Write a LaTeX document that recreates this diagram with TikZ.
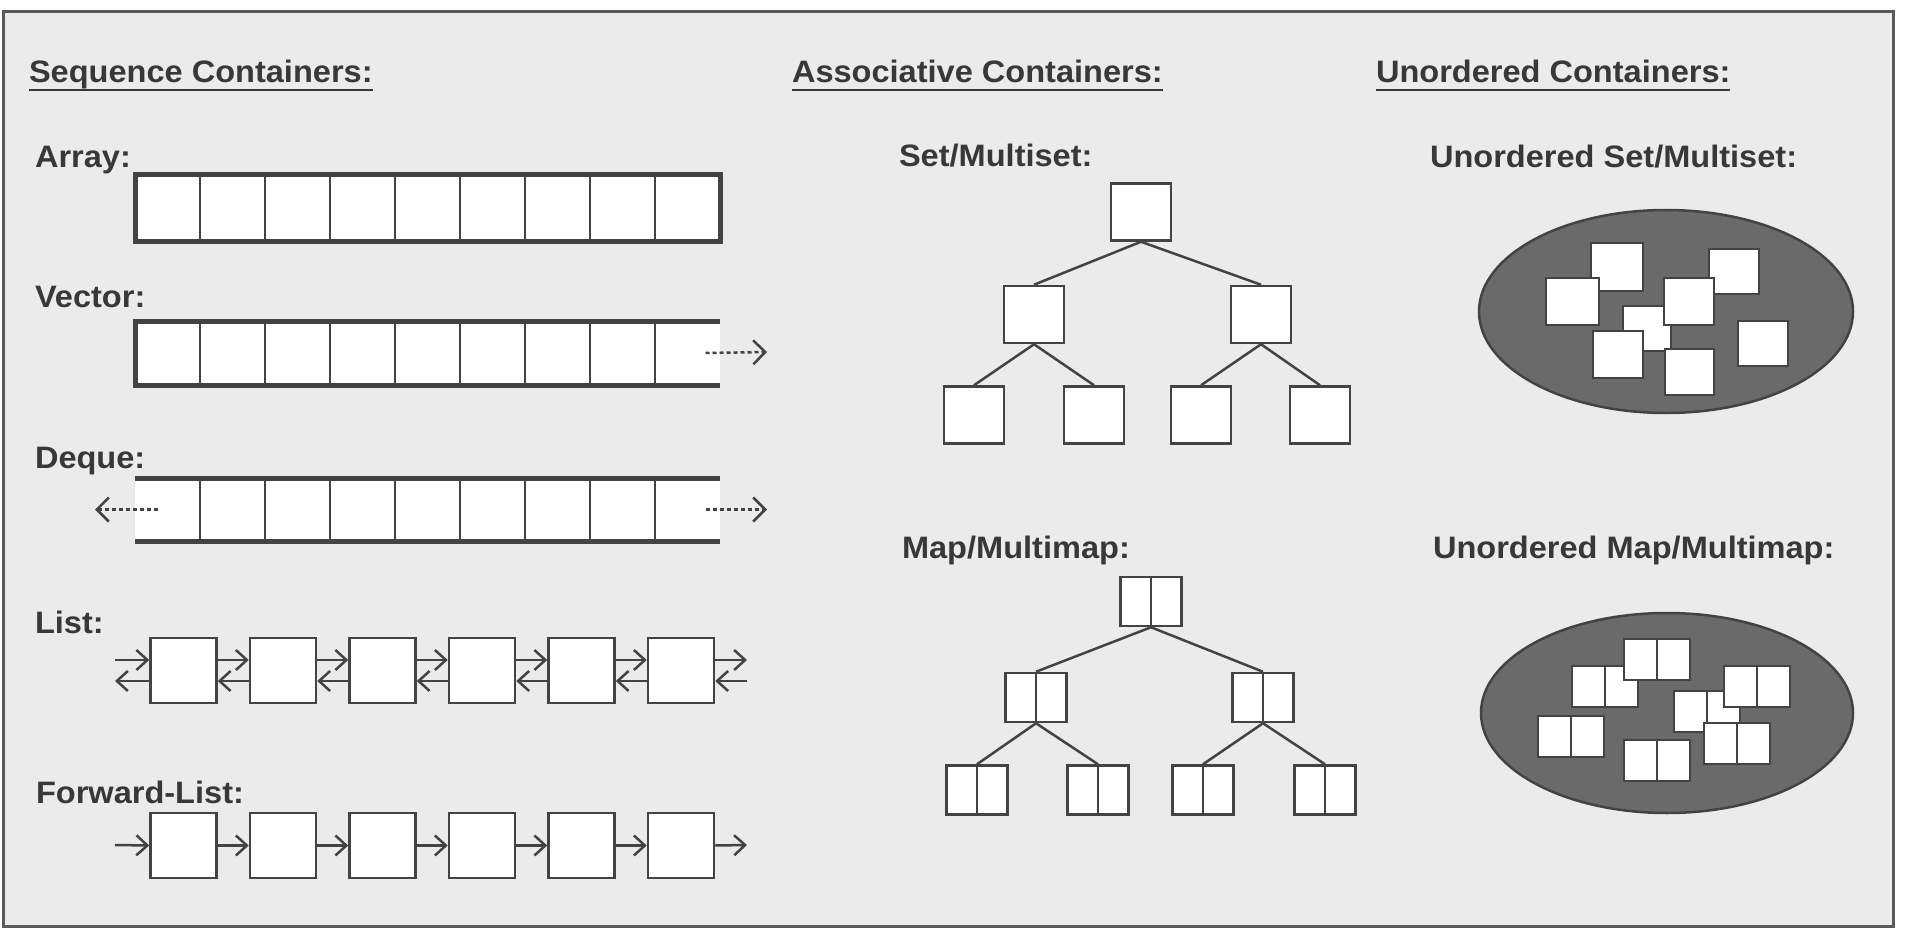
\documentclass[tikz,border=0pt]{standalone}
\usepackage{fontspec}
\setmainfont{Liberation Sans}
\usepackage{graphicx}
\usetikzlibrary{arrows.meta,shapes.geometric}

\definecolor{paper}{HTML}{EBEBEB}
\definecolor{frame}{HTML}{5A5A5A}
\definecolor{ink}{HTML}{434343}
\definecolor{txt}{HTML}{383838}
\definecolor{blob}{HTML}{6A6A6A}

% labels are set slightly wide
\newcommand\widetxt[1]{\scalebox{1.05}[1]{#1}}

\tikzset{
  lbl/.style={anchor=base west, inner sep=0pt, outer sep=0pt, text=txt,
              font=\fontsize{31}{36}\selectfont\bfseries},
  uline/.style={draw=txt, line width=2.5pt},
  cell/.style={draw=ink, line width=2.5pt, fill=white, minimum width=65pt,
               minimum height=66pt, inner sep=0pt, outer sep=0pt},
  bare/.style={fill=white, minimum width=65pt, minimum height=64pt,
               inner sep=0pt, outer sep=0pt},
  heavy/.style={draw=ink, line width=5pt, line cap=butt, line join=miter},
  divider/.style={draw=ink, line width=2.5pt},
  lbox/.style={draw=ink, line width=2.5pt, fill=white, minimum width=66pt,
               minimum height=65pt, inner sep=0pt},
  larrow/.style={draw=ink, line width=2.5pt,
                 -{Straight Barb[length=11pt,width=20pt]}},
  growarrow/.style={draw=ink, line width=2.5pt, dash pattern=on 4pt off 3pt,
               -{Straight Barb[length=12pt,width=24pt]}},
  tnode/.style={draw=ink, line width=2.5pt, fill=white, minimum width=60pt,
                minimum height=57pt, inner sep=0pt},
  pnode/.style={draw=ink, line width=2.5pt, fill=white, minimum width=61pt,
                minimum height=49pt, inner sep=0pt,
                path picture={\draw[ink, line width=2.5pt]
                  (path picture bounding box.north) -- (path picture bounding box.south);}},
  treeline/.style={draw=ink, line width=2.5pt},
  bag/.style={ellipse, draw=ink, line width=2.5pt, fill=blob, inner sep=0pt},
  usq/.style={draw=ink, line width=2pt, fill=white, inner sep=0pt,
              anchor=north west, minimum width=50pt, minimum height=47pt},
  upair/.style={draw=ink, line width=2pt, fill=white, inner sep=0pt,
                anchor=north west, minimum width=66pt, minimum height=41pt,
                path picture={\draw[ink, line width=2pt]
                  (path picture bounding box.north) -- (path picture bounding box.south);}},
}

\begin{document}
\begin{tikzpicture}[x=1pt,y=-1pt]
\useasboundingbox (0,0) rectangle (1919,936);
\fill[white] (0,0) rectangle (1919,936);
\draw[fill=paper, draw=frame, line width=3pt] (3,12) rectangle (1893,926);

% ---------- headings ----------
\node[lbl] (hseq) at (29,83) {\widetxt{Sequence Containers:}};
\node[lbl] (hasc) at (792,83) {\widetxt{Associative Containers:}};
\node[lbl] (huno) at (1376,83) {\widetxt{Unordered Containers:}};
\foreach \h in {hseq,hasc,huno}
  \draw[uline] ([yshift=-7pt]\h.base west) -- ([yshift=-7pt]\h.base east);

% ---------- sequence containers ----------
\node[lbl] (tarr) at (35,168) {\widetxt{Array:}};
\node[lbl] (tvec) at (35,307) {\widetxt{Vector:}};
\node[lbl] (tdeq) at (35,468) {\widetxt{Deque:}};
\node[lbl] (tlst) at (35,633) {\widetxt{List:}};
\node[lbl] (tfwd) at (36,803) {\widetxt{Forward-List:}};

% array
\foreach \i in {1,...,9}
  \node[cell] (a\i) at ({167.5+65*(\i-1)},208) {};
\draw[heavy] (a1.north west) rectangle (a9.south east);

% vector: closed on the left, open on the right
\foreach \i in {1,...,9}
  \node[bare] (v\i) at ({167.5+65*(\i-1)},353) {};
\foreach \i in {1,...,8}
  \draw[divider] (v\i.north east) -- (v\i.south east);
\draw[heavy] (v9.north east) -- (v1.north west) -- (v1.south west) -- (v9.south east);
\coordinate (vout) at (767,352);
\draw[growarrow] ([xshift=18pt]v9.center) -- (vout);

% deque: open at both ends
\foreach \i in {1,...,9}
  \node[bare, minimum height=63pt] (d\i) at ({167.5+65*(\i-1)},509.5) {};
\foreach \i in {1,...,8}
  \draw[divider] (d\i.north east) -- (d\i.south east);
\draw[heavy] (d1.north west) -- (d9.north east);
\draw[heavy] (d1.south west) -- (d9.south east);
\coordinate (dout) at (767,509.5);
\coordinate (din) at (95,509.5);
\draw[growarrow] ([xshift=18pt]d9.center) -- (dout);
\draw[growarrow] ([xshift=-10pt]d1.center) -- (din);

% list
\foreach \i in {1,...,6}
  \node[lbox] (l\i) at ({183.5+99.5*(\i-1)},670.5) {};
\coordinate (lin) at (115,670.5);
\coordinate (lout) at (747,670.5);
\draw[larrow] ([yshift=10.5pt]lin) -- ([yshift=10.5pt]l1.west);
\draw[larrow] ([yshift=-10.5pt]l1.west) -- ([yshift=-10.5pt]lin);
\foreach \i [evaluate=\i as \j using int(\i+1)] in {1,...,5} {
  \draw[larrow] ([yshift=10.5pt]l\i.east) -- ([yshift=10.5pt]l\j.west);
  \draw[larrow] ([yshift=-10.5pt]l\j.west) -- ([yshift=-10.5pt]l\i.east);
}
\draw[larrow] ([yshift=10.5pt]l6.east) -- ([yshift=10.5pt]lout);
\draw[larrow] ([yshift=-10.5pt]lout) -- ([yshift=-10.5pt]l6.east);

% forward list
\foreach \i in {1,...,6}
  \node[lbox] (f\i) at ({183.5+99.5*(\i-1)},845.5) {};
\coordinate (fin) at (115,845);
\coordinate (fout) at (747,845);
\draw[larrow] (fin) -- (f1.west);
\foreach \i [evaluate=\i as \j using int(\i+1)] in {1,...,5}
  \draw[larrow] (f\i.east) -- (f\j.west);
\draw[larrow] (f6.east) -- (fout);

% ---------- associative containers ----------
\node[lbl] (tset) at (899,167) {\widetxt{Set/Multiset:}};
\node[lbl] (tmap) at (902,558) {\widetxt{Map/Multimap:}};

% set tree
\node[tnode] (s0) at (1141,212) {};
\node[tnode] (s1) at (1034,314.5) {};
\node[tnode] (s2) at (1261,314.5) {};
\node[tnode] (s3) at (974,415) {};
\node[tnode] (s4) at (1094,415) {};
\node[tnode] (s5) at (1201,415) {};
\node[tnode] (s6) at (1320,415) {};
\draw[treeline] (s0.south) -- (s1.north);
\draw[treeline] (s0.south) -- (s2.north);
\draw[treeline] (s1.south) -- (s3.north);
\draw[treeline] (s1.south) -- (s4.north);
\draw[treeline] (s2.south) -- (s5.north);
\draw[treeline] (s2.south) -- (s6.north);

% map tree
\node[pnode] (m0) at (1151,601.5) {};
\node[pnode] (m1) at (1036,697.5) {};
\node[pnode] (m2) at (1263,697.5) {};
\node[pnode] (m3) at (977,790) {};
\node[pnode] (m4) at (1098,790) {};
\node[pnode] (m5) at (1203,790) {};
\node[pnode] (m6) at (1325,790) {};
\draw[treeline] (m0.south) -- (m1.north);
\draw[treeline] (m0.south) -- (m2.north);
\draw[treeline] (m1.south) -- (m3.north);
\draw[treeline] (m1.south) -- (m4.north);
\draw[treeline] (m2.south) -- (m5.north);
\draw[treeline] (m2.south) -- (m6.north);

% ---------- unordered containers ----------
\node[lbl] (tuset) at (1430,168) {\widetxt{Unordered Set/Multiset:}};
\node[lbl] (tumap) at (1433,558) {\widetxt{Unordered Map/Multimap:}};

% hashed set: loose elements in a bucket
\node[bag, minimum width=374pt, minimum height=203pt] (uset) at (1666,311.5) {};
\node[usq, minimum width=48pt, minimum height=45pt] (e3) at (1622,305) {};
\node[usq, minimum width=52pt, minimum height=48pt] (e1) at (1590,242) {};
\node[usq, minimum height=45pt] (e5) at (1708,248) {};
\node[usq, minimum width=53pt] (e2) at (1545,277) {};
\node[usq] (e4) at (1663,277) {};
\node[usq] (e7) at (1592,330) {};
\node[usq, minimum width=49pt, minimum height=46pt] (e8) at (1664,348) {};
\node[usq, minimum height=45pt] (e6) at (1737,320) {};

% hashed map: loose key/value pairs in a bucket
\node[bag, minimum width=372pt, minimum height=200pt] (umap) at (1667,713) {};
\node[upair] (p3) at (1673,690) {};
\node[upair] (p2) at (1571,665) {};
\node[upair] (p1) at (1623,638) {};
\node[upair] (p4) at (1723,665) {};
\node[upair] (p7) at (1703,722) {};
\node[upair] (p5) at (1537,715) {};
\node[upair] (p6) at (1623,739) {};
\end{tikzpicture}
\end{document}
